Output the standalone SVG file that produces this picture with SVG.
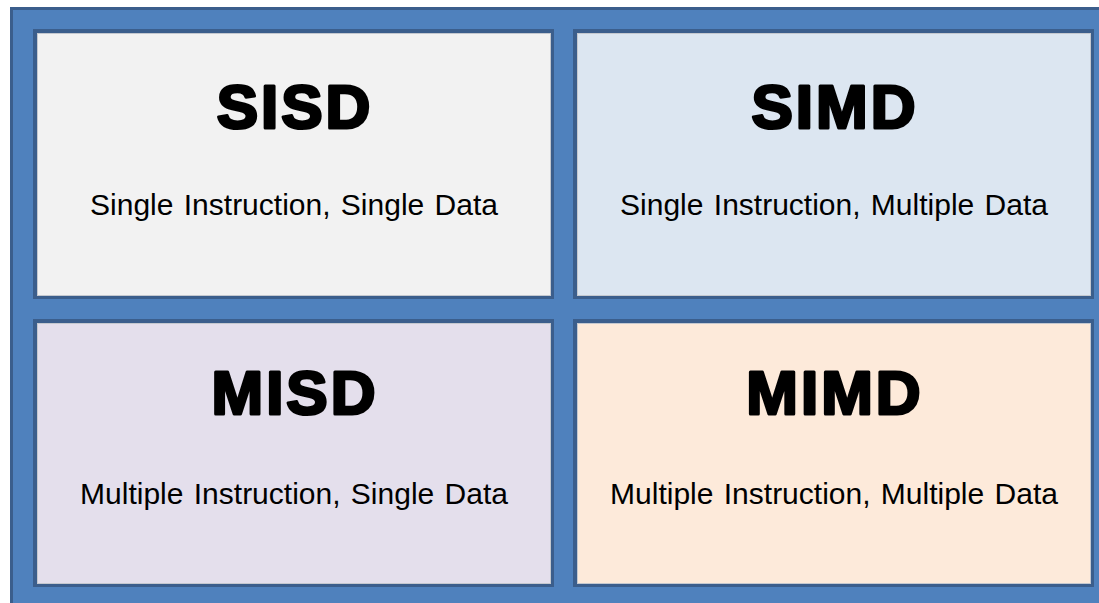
<svg xmlns="http://www.w3.org/2000/svg" width="1099" height="603" viewBox="0 0 1099 603">
  <style>
    .edge { fill: #3b5e8c; }
    .panel { stroke: #c4c8cf; stroke-width: 1; }
    .title { font-family: "Liberation Sans", Arial, sans-serif; font-weight: bold; font-size: 62px; fill: #000; stroke: #000; stroke-width: 3; stroke-linejoin: round; letter-spacing: 3px; text-anchor: middle; }
    .sub { font-family: "Liberation Sans", Arial, sans-serif; font-size: 30px; fill: #000; word-spacing: 2px; text-anchor: middle; }
  </style>
  <rect x="0" y="0" width="1099" height="603" fill="#ffffff"/>
  <!-- outer frame -->
  <g id="frame">
    <rect class="edge" x="10" y="7" width="1089" height="596"/>
    <rect x="13" y="10" width="1086" height="593" fill="#4f81bd"/>
  </g>
  <g id="sisd">
    <rect class="edge" x="33" y="29" width="521" height="270"/>
    <rect class="panel" x="37.5" y="33.5" width="513" height="262" fill="#f2f2f2"/>
    <text class="title" x="295" y="128">SISD</text>
    <text class="sub" x="294" y="215">Single Instruction, Single Data</text>
  </g>
  <g id="simd">
    <rect class="edge" x="573" y="29" width="521" height="270"/>
    <rect class="panel" x="577.5" y="33.5" width="513" height="262" fill="#dce6f1"/>
    <text class="title" x="835" y="128">SIMD</text>
    <text class="sub" x="834" y="215">Single Instruction, Multiple Data</text>
  </g>
  <g id="misd">
    <rect class="edge" x="33" y="319" width="521" height="268"/>
    <rect class="panel" x="37.5" y="323.5" width="513" height="260" fill="#e4dfec"/>
    <text class="title" x="295" y="414">MISD</text>
    <text class="sub" x="294" y="504">Multiple Instruction, Single Data</text>
  </g>
  <g id="mimd">
    <rect class="edge" x="573" y="319" width="521" height="268"/>
    <rect class="panel" x="577.5" y="323.5" width="513" height="260" fill="#fdeada"/>
    <text class="title" x="835" y="414">MIMD</text>
    <text class="sub" x="834" y="504">Multiple Instruction, Multiple Data</text>
  </g>
  <g id="connectors"/>
</svg>
